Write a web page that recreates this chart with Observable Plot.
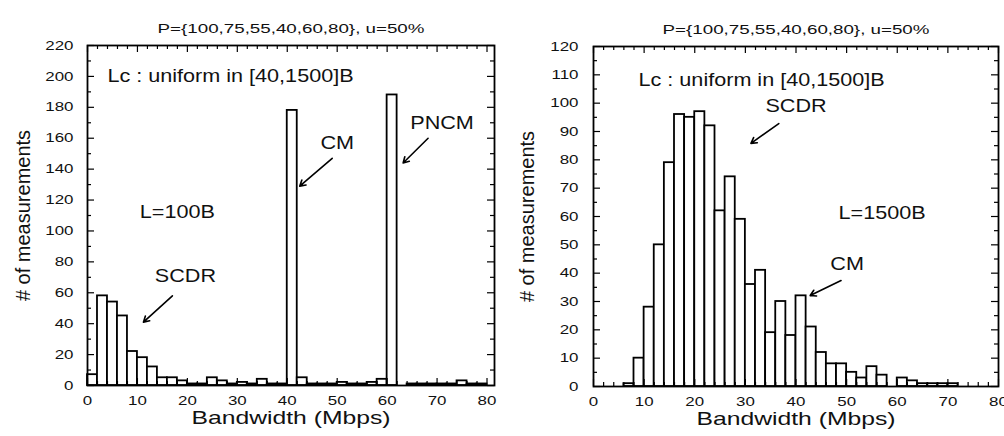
<!DOCTYPE html>
<html><head><meta charset="utf-8">
<script src="https://cdn.jsdelivr.net/npm/d3@7"></script>
<script src="https://cdn.jsdelivr.net/npm/@observablehq/plot@0.6"></script>
<style>
html,body{margin:0;padding:0;background:#fff;}
#wrap{display:flex;width:1004px;height:436px;overflow:hidden;}
svg text{font-family:"Liberation Sans",Arial,Helvetica,sans-serif;}
</style></head><body><div id="wrap"></div>
<script>
// ---------------- data ----------------
const titleText = "P={100,75,55,40,60,80}, u=50%";
const xLabelText = "Bandwidth (Mbps)";
const yLabelText = "# of measurements";
const binWidth = 2;

const leftBinStarts = [0,2,4,6,8,10,12,14,16,18,20,22,24,26,28,30,32,34,36,38,40,42,44,46,48,50,52,54,56,58,60,62,64,66,68,70,72,74,76,78];
const leftCounts    = [7,58,54,45,22,18,12,5,5,3,1,1,5,3,1,2,1,4,1,1,178,5,1,1,1,2,1,1,2,4,188,0,1,1,1,1,1,3,1,1];

const rightBinStarts = [6,8,10,12,14,16,18,20,22,24,26,28,30,32,34,36,38,40,42,44,46,48,50,52,54,56,58,60,62,64,66,68,70];
const rightCounts    = [1,10,28,50,79,96,95,97,92,62,74,59,36,41,19,30,18,32,21,12,8,8,5,3,7,4,0,3,2,1,1,1,1];

const xTickLabels = [0,10,20,30,40,50,60,70,80];
const xMinorTicks = [2,4,6,8,12,14,16,18,22,24,26,28,32,34,36,38,42,44,46,48,52,54,56,58,62,64,66,68,72,74,76,78];
const leftYTickLabels = [0,20,40,60,80,100,120,140,160,180,200,220];
const leftYMinorTicks = [10,30,50,70,90,110,130,150,170,190,210];
const rightYTickLabels = [0,10,20,30,40,50,60,70,80,90,100,110,120];
const rightYMinorTicks = [5,15,25,35,45,55,65,75,85,95,105,115];

const leftNotes = [
  {label:"Lc : uniform in [40,1500]B", x:4, y:200, anchor:"start"},
  {label:"CM", x:50, y:157, anchor:"middle"},
  {label:"PNCM", x:71, y:170, anchor:"middle"},
  {label:"L=100B", x:18, y:112, anchor:"middle"},
  {label:"SCDR", x:19.6, y:71, anchor:"middle"}
];
const leftArrows = [
  {x1:49, y1:147, x2:42.5, y2:129},
  {x1:68.2, y1:160, x2:63.2, y2:144},
  {x1:17, y1:58, x2:11.2, y2:41}
];
const rightNotes = [
  {label:"Lc : uniform in [40,1500]B", x:8.9, y:108, anchor:"start"},
  {label:"SCDR", x:40, y:99, anchor:"middle"},
  {label:"L=1500B", x:57, y:61, anchor:"middle"},
  {label:"CM", x:50.1, y:43, anchor:"middle"}
];
const rightArrows = [
  {x1:36.6, y1:92.8, x2:31.1, y2:85.8},
  {x1:48.9, y1:37.4, x2:42.8, y2:32.1}
];

// ---------------- drawing ----------------
function makeChart(o) {
  const W = 502, H = 436;
  const fw = W - o.ml - o.mr, fh = H - o.mt - o.mb;
  const bars = o.bins.map((b, i) => ({x1: b, x2: b + binWidth, y: o.counts[i]}));
  const major = 7, minor = 4, tw = 1.2;
  const noteStart = o.notes.filter(d => d.anchor === "start");
  const noteMid = o.notes.filter(d => d.anchor === "middle");
  return Plot.plot({
    width: W, height: H,
    marginLeft: o.ml, marginRight: o.mr, marginTop: o.mt, marginBottom: o.mb,
    style: {fontSize: "13px", color: "#111", background: "white", overflow: "visible"},
    x: {domain: [0, o.xMax], ticks: xTickLabels, tickSize: 0, tickPadding: 10, label: null},
    y: {domain: [0, o.yMax], ticks: o.yTicks, tickSize: 0, tickPadding: o.yPad, label: null},
    marks: [
      Plot.rectY(bars, {x1: "x1", x2: "x2", y: "y", fill: "white", stroke: "black", strokeWidth: 1.8, inset: 0}),
      // bottom / top x ticks (inward)
      Plot.ruleX(xTickLabels, {insetTop: fh - major, stroke: "black", strokeWidth: tw}),
      Plot.ruleX(xMinorTicks, {insetTop: fh - minor, stroke: "black", strokeWidth: tw}),
      Plot.ruleX(xTickLabels, {insetBottom: fh - major, stroke: "black", strokeWidth: tw}),
      Plot.ruleX(xMinorTicks, {insetBottom: fh - minor, stroke: "black", strokeWidth: tw}),
      // left / right y ticks (inward)
      Plot.ruleY(o.yTicks, {insetRight: fw - major, stroke: "black", strokeWidth: tw}),
      Plot.ruleY(o.yMinor, {insetRight: fw - minor, stroke: "black", strokeWidth: tw}),
      Plot.ruleY(o.yTicks, {insetLeft: fw - major, stroke: "black", strokeWidth: tw}),
      Plot.ruleY(o.yMinor, {insetLeft: fw - minor, stroke: "black", strokeWidth: tw}),
      Plot.frame({stroke: "black", strokeWidth: 1.8}),
      // annotations
      Plot.text(noteStart, {x: "x", y: "y", text: "label", textAnchor: "start", fontSize: 18, fill: "#111"}),
      Plot.text(noteMid, {x: "x", y: "y", text: "label", textAnchor: "middle", fontSize: 18, fill: "#111"}),
      Plot.arrow(o.arrows, {x1: "x1", y1: "y1", x2: "x2", y2: "y2", stroke: "black", strokeWidth: 1.6, headLength: 6, headAngle: 60}),
      // title and axis labels
      Plot.text([titleText], {frameAnchor: "top", dy: -21, fontSize: 12.5, fill: "#111"}),
      Plot.text([xLabelText], {frameAnchor: "bottom", dy: 38, fontSize: 19, fill: "#111"}),
      Plot.text([yLabelText], {frameAnchor: "left", dx: o.yLabelDx, rotate: -90, textAnchor: "middle", fontSize: 20, fill: "#111", fontFamily: "DejaVu Sans"})
    ]
  });
}

function stretchTexts(svg) {
  svg.querySelectorAll("text").forEach(t => {
    const fs = parseFloat(getComputedStyle(t).fontSize);
    if (fs === 20) return; // rotated y label: not stretched
    let f = 1.3;
    if (fs < 13) f = 1.5;
    else if (fs === 18) f = 1.2;
    const len = t.getComputedTextLength();
    if (len > 0) {
      t.setAttribute("textLength", (len * f).toFixed(1));
      t.setAttribute("lengthAdjust", "spacingAndGlyphs");
    }
  });
}

const wrap = document.getElementById("wrap");
const left = makeChart({
  bins: leftBinStarts, counts: leftCounts, xMax: 81.5, yMax: 220,
  yTicks: leftYTickLabels, yMinor: leftYMinorTicks,
  ml: 87, mr: 8, mt: 45, mb: 51, yPad: 14, yLabelDx: -64,
  notes: leftNotes, arrows: leftArrows
});
const right = makeChart({
  bins: rightBinStarts, counts: rightCounts, xMax: 80, yMax: 120,
  yTicks: rightYTickLabels, yMinor: rightYMinorTicks,
  ml: 91, mr: 6, mt: 46, mb: 50, yPad: 15, yLabelDx: -66,
  notes: rightNotes, arrows: rightArrows
});
wrap.appendChild(left);
wrap.appendChild(right);
stretchTexts(left);
stretchTexts(right);
</script></body></html>
